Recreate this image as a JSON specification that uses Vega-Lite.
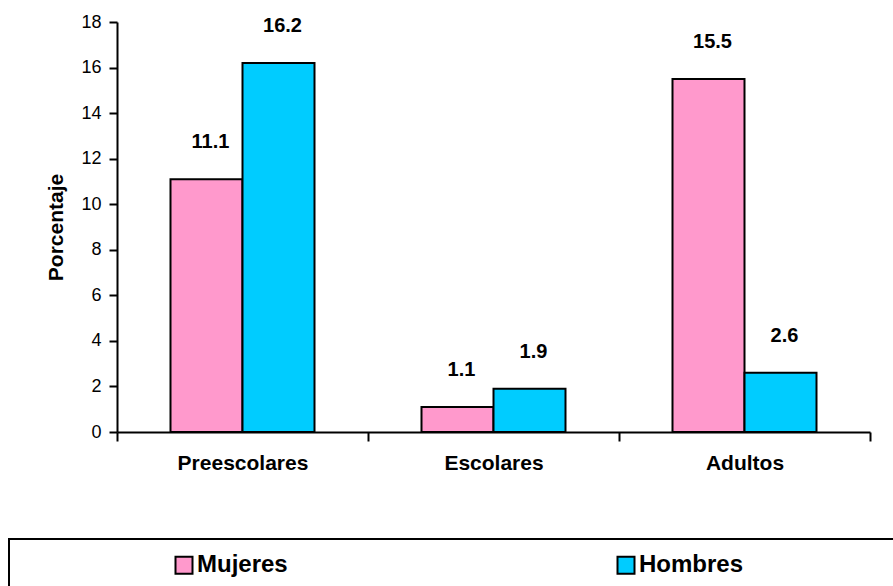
{
  "$schema": "https://vega.github.io/schema/vega-lite/v6.json",
  "width": 753,
  "height": 410,
  "autosize": {"type": "none"},
  "padding": {"left": 117, "top": 22, "right": 23, "bottom": 154},
  "background": "white",
  "config": {
    "view": {"stroke": null},
    "font": "Liberation Sans",
    "legend": {"strokeWidth": 2}
  },
  "data": {
    "values": [
      {"grupo": "Preescolares", "sexo": "Mujeres", "valor": 11.1},
      {"grupo": "Preescolares", "sexo": "Hombres", "valor": 16.2},
      {"grupo": "Escolares", "sexo": "Mujeres", "valor": 1.1},
      {"grupo": "Escolares", "sexo": "Hombres", "valor": 1.9},
      {"grupo": "Adultos", "sexo": "Mujeres", "valor": 15.5},
      {"grupo": "Adultos", "sexo": "Hombres", "valor": 2.6}
    ]
  },
  "encoding": {
    "x": {
      "field": "grupo",
      "type": "nominal",
      "sort": ["Preescolares", "Escolares", "Adultos"],
      "scale": {"paddingInner": 0, "paddingOuter": 0},
      "axis": {
        "title": null,
        "labelAngle": 0,
        "tickBand": "extent",
        "domainColor": "black",
        "domainWidth": 2,
        "tickColor": "black",
        "tickWidth": 2,
        "tickSize": 9,
        "labelFont": "Liberation Sans",
        "labelFontWeight": "bold",
        "labelFontSize": 21,
        "labelColor": "black",
        "labelPadding": 11
      }
    },
    "xOffset": {
      "field": "sexo",
      "type": "nominal",
      "sort": ["Mujeres", "Hombres"],
      "scale": {"paddingInner": 0, "paddingOuter": 0.743}
    },
    "y": {
      "field": "valor",
      "type": "quantitative",
      "scale": {"domain": [0, 18], "nice": false},
      "axis": {
        "title": "Porcentaje",
        "titleFont": "Liberation Sans",
        "titleFontWeight": "bold",
        "titleFontSize": 21,
        "titleColor": "black",
        "titlePadding": 14,
        "values": [0, 2, 4, 6, 8, 10, 12, 14, 16, 18],
        "grid": false,
        "domainColor": "black",
        "domainWidth": 2,
        "tickColor": "black",
        "tickWidth": 2,
        "tickSize": 8,
        "labelFont": "Liberation Sans",
        "labelFontSize": 18,
        "labelColor": "black",
        "labelPadding": 8
      }
    }
  },
  "layer": [
    {
      "mark": {"type": "bar", "stroke": "black", "strokeWidth": 2},
      "encoding": {
        "color": {
          "field": "sexo",
          "type": "nominal",
          "scale": {"domain": ["Mujeres", "Hombres"], "range": ["#FF99CC", "#00CCFF"]},
          "legend": {
            "orient": "none",
            "legendX": -108,
            "legendY": 517,
            "direction": "horizontal",
            "columns": 2,
            "title": "\u00a0",
            "titleOrient": "right",
            "titlePadding": 150,
            "symbolType": "square",
            "symbolSize": 289,
            "symbolStrokeColor": "black",
            "symbolStrokeWidth": 2,
            "symbolOpacity": 1,
            "symbolOffset": 149,
            "labelOffset": 1,
            "labelFont": "Liberation Sans",
            "labelFontWeight": "bold",
            "labelFontSize": 24,
            "labelColor": "black",
            "columnPadding": 177,
            "padding": 14,
            "strokeColor": "black",
            "fillColor": "white"
          }
        }
      }
    },
    {
      "mark": {
        "type": "text",
        "baseline": "middle",
        "align": "center",
        "dy": -37,
        "dx": 4,
        "font": "Liberation Sans",
        "fontWeight": "bold",
        "fontSize": 20,
        "color": "black"
      },
      "encoding": {
        "text": {"field": "valor", "type": "quantitative", "format": ".1f"}
      }
    }
  ]
}
